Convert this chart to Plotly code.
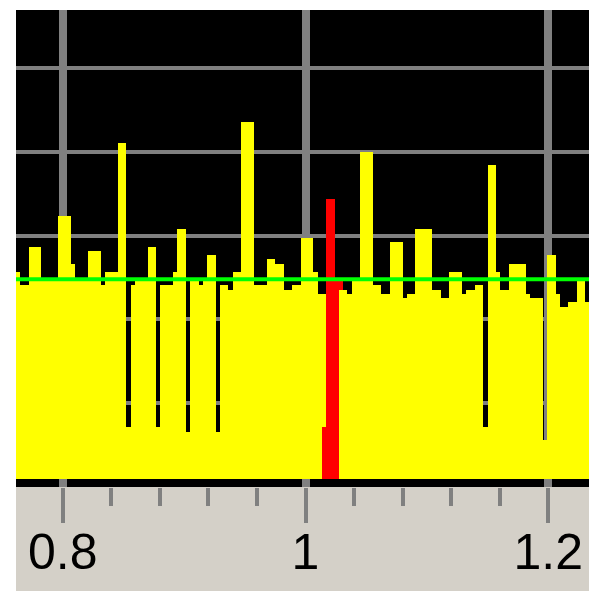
import plotly.graph_objects as go

# ---- data (histogram) ----
BIN_START = 0.7615      # left edge of first bin
BIN_WIDTH = 0.0035      # width of each bin
BASE_LEVEL = 0.095      # level where the bars start

# yellow series: height of each bin (135 bins)
YELLOW = [
    2.57, 2.41, 2.41, 2.86, 2.86, 2.86, 2.47, 2.47, 2.47, 2.47,
    3.23, 3.23, 3.23, 2.66, 2.47, 2.47, 2.47, 2.82, 2.82, 2.82,
    2.41, 2.57, 2.57, 2.57, 4.10, 4.10, 0.72, 2.41, 2.47, 2.47,
    2.47, 2.86, 2.86, 0.72, 2.41, 2.41, 2.41, 2.57, 3.08, 3.08,
    0.66, 2.47, 2.47, 2.41, 2.47, 2.77, 2.77, 0.66, 2.41, 2.41,
    2.35, 2.57, 2.57, 4.36, 4.36, 4.36, 2.41, 2.41, 2.41, 2.72,
    2.72, 2.66, 2.66, 2.35, 2.35, 2.41, 2.41, 2.97, 2.97, 2.97,
    2.57, 2.30, 2.30, 0.00, 0.00, 0.00, 2.35, 2.35, 2.30, 2.47,
    2.47, 4.00, 4.00, 4.00, 2.41, 2.41, 2.30, 2.30, 2.92, 2.92,
    2.92, 2.26, 2.30, 2.30, 3.08, 3.08, 3.08, 3.08, 2.35, 2.35,
    2.26, 2.26, 2.57, 2.57, 2.57, 2.30, 2.35, 2.35, 2.41, 2.41,
    0.72, 3.84, 3.84, 2.57, 2.35, 2.35, 2.66, 2.66, 2.66, 2.66,
    2.30, 2.26, 2.26, 2.26, 0.56, 2.77, 2.77, 2.30, 2.15, 2.15,
    2.21, 2.21, 2.46, 2.46, 2.21,
]

# red series: only a few bins are non-zero
RED_FIRST_BIN = 72
RED_VALUES = [0.72, 3.44, 3.44, 2.46, 2.46]

MEAN_LEVEL = 2.48       # green reference line

X_RANGE = [0.7615, 1.2352]
Y_RANGE = [0.0, 5.692]

YELLOW_COLOR = "#ffff00"
RED_COLOR = "#ff0000"
GREEN_COLOR = "#00ff00"
GRID_COLOR = "#808080"
PANEL_COLOR = "#d4d0c8"

# ---- build the overlaid bars: taller bar behind, shorter in front ----
n = len(YELLOW)
red = [0.0] * n
for k, v in enumerate(RED_VALUES):
    red[RED_FIRST_BIN + k] = v

centers = [BIN_START + BIN_WIDTH * (i + 0.5) for i in range(n)]
back_y, back_c, front_y, front_c = [], [], [], []
for i in range(n):
    yv, rv = YELLOW[i], red[i]
    if rv > yv:
        back_y.append(rv - BASE_LEVEL); back_c.append(RED_COLOR)
        front_y.append(yv - BASE_LEVEL if yv > 0 else None); front_c.append(YELLOW_COLOR)
    else:
        back_y.append(yv - BASE_LEVEL if yv > 0 else None); back_c.append(YELLOW_COLOR)
        front_y.append(rv - BASE_LEVEL if rv > 0 else None); front_c.append(RED_COLOR)

fig = go.Figure()
fig.add_trace(go.Bar(x=centers, y=back_y, base=BASE_LEVEL, width=BIN_WIDTH,
                     marker=dict(color=back_c, line=dict(width=0)), showlegend=False))
fig.add_trace(go.Bar(x=centers, y=front_y, base=BASE_LEVEL, width=BIN_WIDTH,
                     marker=dict(color=front_c, line=dict(width=0)), showlegend=False))

fig.add_shape(type="line", xref="paper", x0=0, x1=1, yref="y", y0=MEAN_LEVEL, y1=MEAN_LEVEL,
              line=dict(color=GREEN_COLOR, width=4), layer="above")

# grey panel under the plot area
fig.add_shape(type="rect", xref="paper", yref="paper", x0=0, x1=1, y0=-0.3, y1=0,
              fillcolor=PANEL_COLOR, line=dict(width=0), layer="below")

fig.update_layout(
    width=589, height=583,
    margin=dict(l=8, r=6, t=2, b=104),
    paper_bgcolor="white",
    plot_bgcolor="black",
    barmode="overlay",
    bargap=0,
    showlegend=False,
    xaxis=dict(
        range=X_RANGE, tick0=0.8, dtick=0.2, automargin=False,
        showgrid=True, gridcolor=GRID_COLOR, gridwidth=8,
        zeroline=False, showline=False,
        ticks="outside", ticklen=35, tickwidth=4, tickcolor=GRID_COLOR,
        tickfont=dict(family="Liberation Sans, Arial, sans-serif", size=50, color="black"),
        ticklabelstandoff=-14,
        minor=dict(tick0=0.8, dtick=0.04, ticks="outside", ticklen=18, tickwidth=4,
                   tickcolor=GRID_COLOR, showgrid=False),
    ),
    yaxis=dict(
        range=Y_RANGE, tick0=0, dtick=1, automargin=False,
        showgrid=True, gridcolor=GRID_COLOR, gridwidth=4,
        zeroline=False, showline=False, showticklabels=False, ticks="",
    ),
)

fig.write_html("out.html")
